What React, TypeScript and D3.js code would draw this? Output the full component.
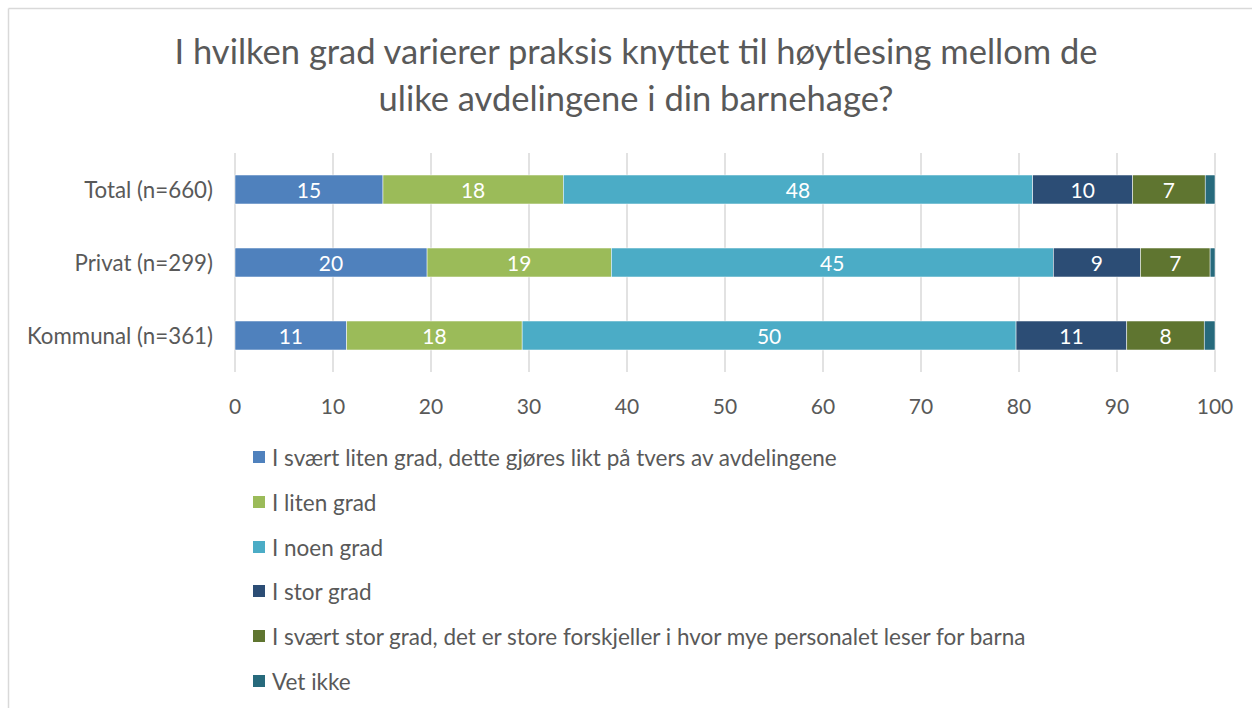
import React from "react";
import * as d3 from "d3";

const categories = ["Total (n=660)", "Privat (n=299)", "Kommunal (n=361)"];
const seriesNames = [
  "I svært liten grad, dette gjøres likt på tvers av avdelingene",
  "I liten grad",
  "I noen grad",
  "I stor grad",
  "I svært stor grad, det er store forskjeller i hvor mye personalet leser for barna",
  "Vet ikke",
];
const seriesColors = ["#4F81BD", "#9BBB59", "#4BACC6", "#2C4D75", "#5F7530", "#276A7C"];
// values per series, in category order
const svaertLiten = [15.1, 19.6, 11.4];
const liten = [18.4, 18.8, 17.9];
const noen = [47.9, 45.1, 50.4];
const stor = [10.2, 8.9, 11.3];
const svaertStor = [7.4, 7.1, 7.9];
const vetIkke = [1.0, 0.5, 1.1];
const seriesValues = [svaertLiten, liten, noen, stor, svaertStor, vetIkke];
const xTicks = [0, 10, 20, 30, 40, 50, 60, 70, 80, 90, 100];

const titleLines = [
  "I hvilken grad varierer praksis knyttet til høytlesing mellom de",
  "ulike avdelingene i din barnehage?",
];

const FONT = "Lato, 'Open Sans', sans-serif";
const TEXT = "#595959";

export default function App() {
  const W = 1252;
  const H = 708;
  const x = d3.scaleLinear().domain([0, 100]).range([235, 1215]);
  const y = d3
    .scaleBand<string>()
    .domain(categories)
    .range([153, 372])
    .paddingInner(0.603)
    .paddingOuter(0.3015);

  const rows = categories.map((c, ci) => {
    const vals = seriesValues.map((s) => s[ci]);
    const cum = d3.cumsum(vals);
    return vals.map((v, si) => ({
      cat: c,
      si,
      v,
      x0: si === 0 ? 0 : cum[si - 1],
      x1: cum[si],
    }));
  });

  const legendY = [457, 502, 547, 591, 636, 681];

  return (
    <svg
      width={W}
      height={H}
      style={{ position: "absolute", left: 0, top: 0, background: "#fff" }}
      fontFamily={FONT}
    >
      <rect x={0} y={0} width={W} height={H} fill="#fff" />
      <line x1={8.5} y1={8.5} x2={W} y2={8.5} stroke="#D9D9D9" strokeWidth={1.5} />
      <line x1={8.5} y1={8.5} x2={8.5} y2={H} stroke="#D9D9D9" strokeWidth={1.5} />

      {titleLines.map((t, i) => (
        <text
          key={i}
          x={636}
          y={64 + i * 47}
          textAnchor="middle"
          fontSize={34.5}
          fill={TEXT}
        >
          {t}
        </text>
      ))}

      {xTicks.map((t) => (
        <g key={t}>
          <line
            x1={x(t)}
            x2={x(t)}
            y1={153}
            y2={372}
            stroke="#D9D9D9"
            strokeWidth={1.5}
          />
          <text
            x={x(t)}
            y={405}
            textAnchor="middle"
            dominantBaseline="central"
            fontSize={21}
            fill={TEXT}
          >
            {t}
          </text>
        </g>
      ))}

      {categories.map((c) => (
        <text
          key={c}
          x={213}
          y={(y(c) as number) + y.bandwidth() / 2}
          textAnchor="end"
          dominantBaseline="central"
          fontSize={22.3}
          fill={TEXT}
        >
          {c}
        </text>
      ))}

      {rows.map((segs) =>
        segs.map((s) => (
          <g key={s.cat + s.si}>
            <rect
              x={x(s.x0)}
              y={y(s.cat)}
              width={x(s.x1) - x(s.x0)}
              height={y.bandwidth()}
              fill={seriesColors[s.si]}
              stroke="#fff"
              strokeWidth={0.5}
            />
            {s.v >= 3 && (
              <text
                x={(x(s.x0) + x(s.x1)) / 2}
                y={(y(s.cat) as number) + y.bandwidth() / 2}
                textAnchor="middle"
                dominantBaseline="central"
                fontSize={21}
                fill="#fff"
              >
                {Math.round(s.v)}
              </text>
            )}
          </g>
        ))
      )}

      {seriesNames.map((n, i) => (
        <g key={n}>
          <rect x={253} y={legendY[i] - 6} width={12} height={12} fill={seriesColors[i]} />
          <text
            x={272}
            y={legendY[i]}
            dominantBaseline="central"
            fontSize={22.5}
            fill={TEXT}
          >
            {n}
          </text>
        </g>
      ))}
    </svg>
  );
}
